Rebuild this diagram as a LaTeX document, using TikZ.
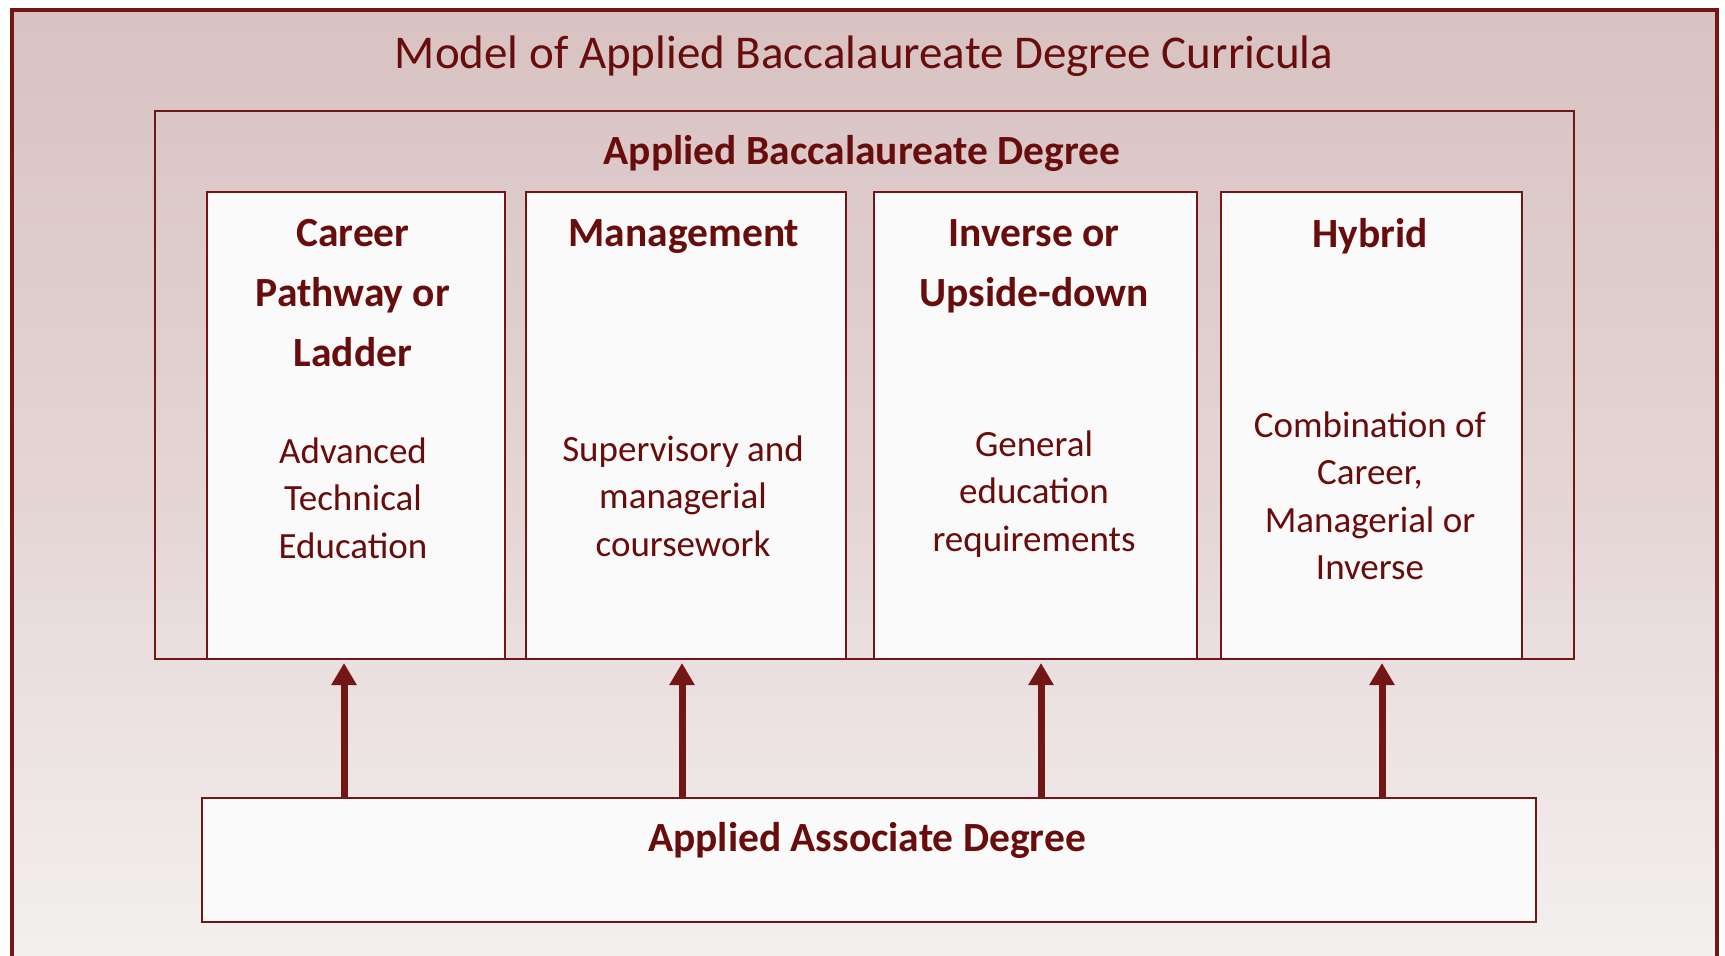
\documentclass[tikz,border=0pt]{standalone}
\usepackage{fontspec}
\setmainfont{Carlito}
\usetikzlibrary{arrows.meta}
\definecolor{txtred}{RGB}{104,12,12}
\definecolor{linered}{RGB}{114,22,22}
\definecolor{bgtop}{RGB}{216,194,194}
\definecolor{bgbot}{RGB}{244,241,241}
\definecolor{bgmid}{RGB}{229,213,213}
\definecolor{boxfill}{RGB}{251,250,250}
\tikzset{
  colbox/.style={draw=linered, line width=2pt, fill=boxfill, anchor=north west, inner sep=0pt},
  headtxt/.style={text=txtred, font=\bfseries\fontsize{41.5}{60}\selectfont, align=center, inner sep=0pt},
  bodytxt/.style={text=txtred, font=\fontsize{37}{47.5}\selectfont, align=center, inner sep=0pt},
  uparrow/.style={draw=linered, line width=7pt, -{Triangle[width=24pt,length=22pt]}, shorten >=3pt},
}
\begin{document}
\begin{tikzpicture}[x=1pt,y=-1pt]
\useasboundingbox (0,0) rectangle (1725,956);
\clip (0,0) rectangle (1725,956);
\fill[white] (0,0) rectangle (1725,956);
% outer frame with gradient
\path[top color=bgtop, bottom color=bgbot, middle color=bgmid] (10,8) rectangle (1715,980);
\node[draw=linered, line width=3.5pt, minimum width=1705pt, minimum height=972pt, anchor=north west, inner sep=0pt] (frame) at (10,8) {};
\node[text=txtred, font=\fontsize{47}{54}\selectfont, inner sep=0pt] (title) at (864,56) {Model of Applied Baccalaureate Degree Curricula};
% inner box
\node[draw=linered, line width=2pt, minimum width=1419pt, minimum height=548pt, anchor=north west, inner sep=0pt] (bacc) at (154,110) {};
\node[text=txtred, font=\bfseries\fontsize{41.5}{48}\selectfont, inner sep=0pt] (bacctitle) at (862,153) {Applied Baccalaureate Degree};
% columns
\node[colbox, minimum width=298pt, minimum height=467pt] (c1) at (206,191) {};
\node[colbox, minimum width=320pt, minimum height=467pt] (c2) at (525,191) {};
\node[colbox, minimum width=323pt, minimum height=467pt] (c3) at (873,191) {};
\node[colbox, minimum width=301pt, minimum height=467pt] (c4) at (1220,191) {};
% column texts
\node[headtxt] (h1) at (353,293) {Career\\Pathway or\\Ladder};
\node[bodytxt] (b1) at (353,498) {Advanced\\Technical\\Education};
\node[headtxt] (h2) at (684,237) {Management};
\node[bodytxt] (b2) at (683,496) {Supervisory and\\managerial\\coursework};
\node[headtxt] (h3) at (1034,266) {Inverse or\\Upside-down};
\node[bodytxt] (b3) at (1034,494) {General\\education\\requirements};
\node[headtxt] (h4) at (1370,236) {Hybrid};
\node[bodytxt] (b4) at (1370,496) {Combination of\\Career,\\Managerial or\\Inverse};
% associate box
\node[draw=linered, line width=2pt, fill=boxfill, minimum width=1334pt, minimum height=124pt, anchor=north west, inner sep=0pt] (assoc) at (201,797) {};
\node[text=txtred, font=\bfseries\fontsize{41.5}{48}\selectfont, inner sep=0pt] (assoctitle) at (867,840) {Applied Associate Degree};
% arrows
\coordinate (a1) at (344,0);
\coordinate (a2) at (682,0);
\coordinate (a3) at (1041,0);
\coordinate (a4) at (1382,0);
\draw[uparrow] (assoc.north -| a1) -- (c1.south -| a1);
\draw[uparrow] (assoc.north -| a2) -- (c2.south -| a2);
\draw[uparrow] (assoc.north -| a3) -- (c3.south -| a3);
\draw[uparrow] (assoc.north -| a4) -- (c4.south -| a4);
\end{tikzpicture}
\end{document}
